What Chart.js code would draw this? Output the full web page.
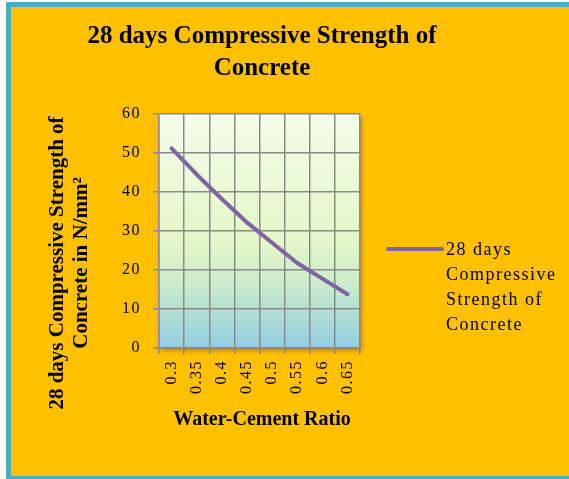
<!DOCTYPE html>
<html>
<head>
<meta charset="utf-8">
<script src="https://cdn.jsdelivr.net/npm/chart.js@4.4.1/dist/chart.umd.min.js"></script>
<style>
  html, body { margin: 0; padding: 0; background: #fff; }
  #wrap { width: 569px; height: 479px; }
</style>
</head>
<body>
<div id="wrap"><canvas id="chart" width="569" height="479"></canvas></div>
<script>
// chart data
const titleLines = ['28 days Compressive Strength of', 'Concrete'];
const yTitleLines = ['28 days Compressive Strength of', 'Concrete in N/mm²'];
const xTitle = 'Water-Cement Ratio';
const seriesName = '28 days Compressive Strength of Concrete';
const ratios = ['0.3', '0.35', '0.4', '0.45', '0.5', '0.55', '0.6', '0.65'];
const strength = [51.2, 44.5, 38.2, 32.2, 27.0, 21.8, 17.8, 13.8];
const yMin = 0;
const yMax = 60;
const yStep = 10;

const SERIF = '"Liberation Serif", "Times New Roman", serif';
const GRID = '#8a8a8a';

// background, plot gradient, titles and the wrapped legend (Excel look)
const excelLook = {
  id: 'excelLook',
  beforeDraw(chart) {
    const ctx = chart.ctx;
    const a = chart.chartArea;
    ctx.save();
    ctx.fillStyle = '#ffffff';
    ctx.fillRect(0, 0, chart.width, chart.height);
    ctx.fillStyle = '#4bacc6';
    ctx.fillRect(6, 2, chart.width - 6, chart.height - 2);
    ctx.fillStyle = '#ffc000';
    ctx.fillRect(11, 7, chart.width - 11, chart.height - 10);

    const g = ctx.createLinearGradient(0, a.top, 0, a.bottom);
    g.addColorStop(0, '#f4fde9');
    g.addColorStop(0.55, '#e3f7c7');
    g.addColorStop(0.72, '#cdeccb');
    g.addColorStop(1, '#92cee0');
    ctx.shadowColor = 'rgba(110, 70, 0, 0.45)';
    ctx.shadowBlur = 4;
    ctx.shadowOffsetX = 2;
    ctx.shadowOffsetY = 3;
    ctx.fillStyle = g;
    ctx.fillRect(a.left, a.top, a.width, a.height);
    ctx.restore();
    // Excel renders the small labels a bit wider
    ctx.letterSpacing = '1.5px';
  },
  afterDraw(chart) {
    const ctx = chart.ctx;
    ctx.letterSpacing = '0px';
    ctx.save();
    ctx.fillStyle = '#000';
    ctx.textAlign = 'center';
    ctx.textBaseline = 'middle';

    // chart title
    ctx.font = 'bold 25px ' + SERIF;
    titleLines.forEach((t, i) => ctx.fillText(t, 262, 37 + i * 32));

    // x axis title
    ctx.font = 'bold 20px ' + SERIF;
    ctx.fillText(xTitle, 262, 420);

    // y axis title, rotated
    ctx.save();
    ctx.translate(58, 263);
    ctx.rotate(-Math.PI / 2);
    ctx.font = 'bold 21px ' + SERIF;
    yTitleLines.forEach((t, i) => ctx.fillText(t, 0, i * 24));
    ctx.restore();

    // legend: line sample + label wrapped like Excel
    const ds = chart.data.datasets[0];
    ctx.strokeStyle = ds.borderColor;
    ctx.lineWidth = 4;
    ctx.lineCap = 'round';
    ctx.beginPath();
    ctx.moveTo(388, 249);
    ctx.lineTo(442, 249);
    ctx.stroke();

    ctx.letterSpacing = '1.5px';
    ctx.font = '18px ' + SERIF;
    ctx.textAlign = 'left';
    ctx.textBaseline = 'alphabetic';
    const words = ds.label.split(' ');
    const lines = [];
    let cur = '';
    words.forEach(w => {
      const test = cur ? cur + ' ' + w : w;
      if (cur && ctx.measureText(test).width > 118) {
        lines.push(cur);
        cur = w;
      } else {
        cur = test;
      }
    });
    if (cur) lines.push(cur);
    lines.forEach((t, i) => ctx.fillText(t, 446, 255 + i * 25));
    ctx.letterSpacing = '0px';
    ctx.restore();
  }
};

new Chart(document.getElementById('chart'), {
  type: 'line',
  data: {
    labels: ratios,
    datasets: [{
      label: seriesName,
      data: strength,
      borderColor: '#7f63a2',
      borderWidth: 4,
      borderCapStyle: 'round',
      borderJoinStyle: 'round',
      pointRadius: 0,
      tension: 0,
      fill: false
    }]
  },
  options: {
    responsive: false,
    devicePixelRatio: 1,
    animation: false,
    layout: { padding: { left: 10, right: 209, top: 114, bottom: 10 } },
    plugins: {
      legend: { display: false },
      title: { display: false },
      tooltip: { enabled: false }
    },
    scales: {
      x: {
        offset: true,
        grid: { offset: true, color: GRID, lineWidth: 1.5, tickLength: 6 },
        border: { color: GRID, width: 1.5 },
        ticks: {
          minRotation: 90,
          maxRotation: 90,
          padding: 6,
          color: '#000',
          font: { family: SERIF, size: 16 }
        },
        afterFit(scale) { scale.height = 121; }
      },
      y: {
        min: yMin,
        max: yMax,
        grid: { color: GRID, lineWidth: 1.5, tickLength: 6 },
        border: { color: GRID, width: 1.5 },
        ticks: {
          stepSize: yStep,
          padding: 12,
          color: '#000',
          font: { family: SERIF, size: 16 }
        },
        afterFit(scale) { scale.width = 149; }
      }
    }
  },
  plugins: [excelLook]
});
</script>
</body>
</html>
